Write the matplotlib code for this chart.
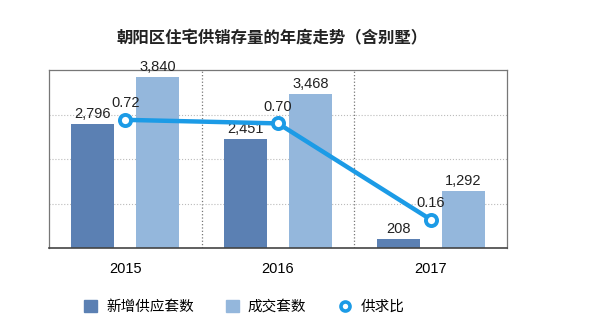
import numpy as np
import matplotlib.pyplot as plt
from matplotlib.lines import Line2D
from matplotlib.patches import Patch

# 字体：数字用 Liberation Sans，中文回落到 Noto Sans CJK SC
plt.rcParams['font.family'] = ['Liberation Sans', 'Noto Sans CJK SC', 'DejaVu Sans']
plt.rcParams['axes.unicode_minus'] = False

years = ['2015', '2016', '2017']
supply = [2796, 2451, 208]      # 新增供应套数
deals = [3840, 3468, 1292]      # 成交套数
ratio = [0.72, 0.70, 0.16]      # 供求比

dark = '#5b80b3'
light = '#94b7dc'
line_c = '#1c9be6'

fig = plt.figure(figsize=(6.12, 3.36), dpi=100)
ax = fig.add_axes([49 / 612, 1 - 248 / 336, 458 / 612, 178 / 336])

x = np.arange(len(years))
w = 0.28
off = 0.213
ax.bar(x - off, supply, w, color=dark, zorder=2)
ax.bar(x + off, deals, w, color=light, zorder=2)

for xi, v in zip(x, supply):
    ax.annotate(f'{v:,}', (xi - off, v), xytext=(0, 2), textcoords='offset points',
                ha='center', va='bottom', fontsize=10.5, color='#222222', zorder=5)
for xi, v in zip(x, deals):
    ax.annotate(f'{v:,}', (xi + off, v), xytext=(0, 2), textcoords='offset points',
                ha='center', va='bottom', fontsize=10.5, color='#222222', zorder=5)

ax.set_xlim(-0.5, 2.5)
ax.set_ylim(0, 4000)
ax.set_yticks([1000, 2000, 3000])
ax.yaxis.grid(True, linestyle=':', color='#bbbbbb', linewidth=0.8, zorder=0)
ax.set_xticks(x)
ax.set_xticklabels(years, fontsize=10.5)
ax.tick_params(axis='x', length=0, pad=10)
for xs in [0.5, 1.5]:
    ax.axvline(xs, color='#777777', linestyle=':', linewidth=0.9, zorder=1)
for s in ax.spines.values():
    s.set_color('#777777')
    s.set_linewidth(0.9)
ax.spines['bottom'].set_color('#444444')
ax.spines['bottom'].set_linewidth(1.2)

# 供求比 折线
ax2 = ax.twinx()
ax2.set_ylim(0, 1.0)
ax2.plot(x, ratio, color=line_c, linewidth=3.2, marker='o', markersize=8,
         markerfacecolor='white', markeredgecolor=line_c, markeredgewidth=2.8, zorder=3)
for xi, v in zip(x, ratio):
    ax2.annotate(f'{v:.2f}', (xi, v), xytext=(0, 7), textcoords='offset points',
                 ha='center', va='bottom', fontsize=10.5, color='#222222')
ax2.set_yticks([])
for s in ax2.spines.values():
    s.set_visible(False)
# twinx 会重新打开左侧刻度，这里再关掉
ax.tick_params(axis='y', left=False, right=False, labelleft=False, labelright=False)

fig.text(0.445, 1 - 38 / 336, '朝阳区住宅供销存量的年度走势（含别墅）', ha='center', va='center',
         fontsize=11.8, fontweight='bold', color='#222222')

handles = [Patch(color=dark), Patch(color=light),
           Line2D([], [], color=line_c, marker='o', markersize=6.5, linewidth=0,
                  markerfacecolor='white', markeredgewidth=2.6)]
fig.legend(handles, ['新增供应套数', '成交套数', '供求比'], loc='center',
           bbox_to_anchor=(0.399, 1 - 307 / 336), ncol=3, frameon=False,
           fontsize=10.5, handlelength=0.9, handleheight=0.9, handletextpad=0.6,
           columnspacing=2.2)

fig.savefig('out.png', dpi=100)
